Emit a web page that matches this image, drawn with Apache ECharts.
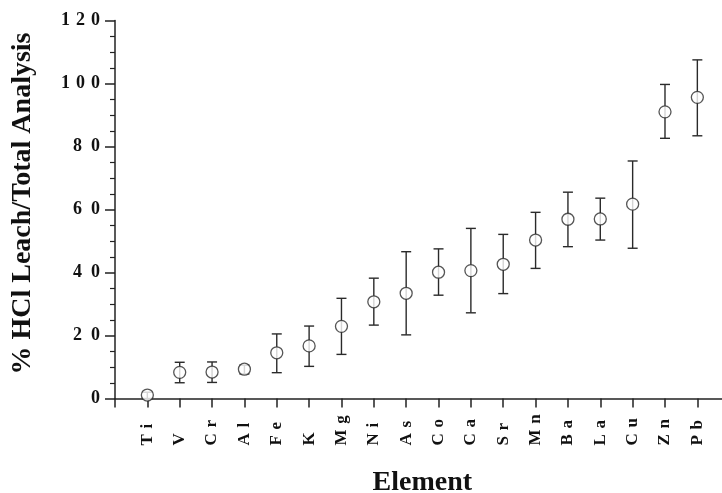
<!DOCTYPE html>
<html>
<head>
<meta charset="utf-8">
<script src="https://cdn.jsdelivr.net/npm/echarts@6/dist/echarts.min.js"></script>
<style>
html,body{margin:0;padding:0;background:#fff;}
#chart{width:722px;height:493px;}
</style>
</head>
<body>
<div id="chart"></div>
<script>
// Elements (x categories)
const categories = ['Ti','V','Cr','Al','Fe','K','Mg','Ni','As','Co','Ca','Sr','Mn','Ba','La','Cu','Zn','Pb'];
// Mean % HCl leach / total analysis
const means = [1.1, 8.3, 8.4, 9.3, 14.5, 16.7, 22.9, 30.7, 33.4, 40.1, 40.6, 42.6, 50.3, 56.9, 57.0, 61.7, 91.0, 95.6];
// Error bar lower and upper ends
const lower = [0.0, 5.0, 5.1, 7.8, 8.2, 10.2, 14.0, 23.3, 20.2, 32.8, 27.2, 33.3, 41.3, 48.2, 50.3, 47.7, 82.6, 83.4];
const upper = [2.0, 11.5, 11.6, 10.6, 20.5, 23.0, 31.8, 38.2, 46.6, 47.5, 54.0, 52.1, 59.1, 65.5, 63.6, 75.4, 99.7, 107.5];
// Y tick labels
const yTicks = [0, 20, 40, 60, 80, 100, 120];

const axisCats = [''].concat(categories).concat(['']);
const serif = '"Liberation Serif", "DejaVu Serif", serif';
const ink = '#222';

const chart = echarts.init(document.getElementById('chart'), null, {renderer: 'canvas'});

function spaced(s, sp) { return String(s).split('').join(sp); }

chart.setOption({
  backgroundColor: '#fff',
  animation: false,
  grid: { left: 115, top: 20.5, width: 614.7, height: 378, containLabel: false, outerBoundsMode: 'none' },
  xAxis: {
    type: 'category',
    data: axisCats,
    boundaryGap: false,
    name: 'Element',
    nameLocation: 'middle',
    nameGap: 70,
    nameTextStyle: { fontFamily: serif, fontWeight: 'bold', fontSize: 28, color: '#111' },
    axisLine: { show: true, lineStyle: { color: ink, width: 1.5 } },
    axisTick: { show: true, inside: false, length: 9, alignWithLabel: true, interval: 0, lineStyle: { color: ink, width: 1.5 } },
    axisLabel: {
      show: true, interval: 0, rotate: 90, margin: 47, align: 'left',
      fontFamily: serif, fontWeight: 'bold', fontSize: 17, color: '#111',
      formatter: function (v) { return spaced(v, '\u2004'); }
    },
    splitLine: { show: false }
  },
  yAxis: {
    type: 'value',
    min: 0, max: 120, interval: 20,
    name: '% HCl Leach/Total Analysis',
    nameLocation: 'middle',
    nameGap: 78,
    nameTextStyle: { fontFamily: serif, fontWeight: 'bold', fontSize: 28, color: '#111', padding: [0, 0, 0, 12] },
    axisLine: { show: true, lineStyle: { color: ink, width: 1.5 } },
    axisTick: { show: true, inside: false, length: 10, lineStyle: { color: ink, width: 1.5 } },
    minorTick: { show: true, splitNumber: 4, length: 5, lineStyle: { color: ink, width: 1.2 } },
    axisLabel: {
      show: true, margin: 15,
      fontFamily: serif, fontWeight: 'bold', fontSize: 18, color: '#111',
      formatter: function (v) {
        if (yTicks.indexOf(v) < 0) return '';
        return v >= 100 ? spaced(v, '\u2004') : spaced(v, '\u2002');
      }
    },
    splitLine: { show: false }
  },
  series: [
    {
      type: 'custom',
      name: 'error',
      data: categories.map(function (c, i) { return [i + 1, lower[i], upper[i]]; }),
      encode: { x: 0, y: [1, 2] },
      z: 2,
      renderItem: function (params, api) {
        const x = api.value(0);
        const lo = api.coord([x, api.value(1)]);
        const hi = api.coord([x, api.value(2)]);
        const hw = 5;
        const st = { stroke: '#2a2a2a', lineWidth: 1.4, fill: null };
        return {
          type: 'group',
          children: [
            { type: 'line', shape: { x1: lo[0], y1: lo[1], x2: hi[0], y2: hi[1] }, style: st },
            { type: 'line', shape: { x1: lo[0] - hw, y1: lo[1], x2: lo[0] + hw, y2: lo[1] }, style: st },
            { type: 'line', shape: { x1: hi[0] - hw, y1: hi[1], x2: hi[0] + hw, y2: hi[1] }, style: st }
          ]
        };
      }
    },
    {
      type: 'scatter',
      name: 'mean',
      data: means.map(function (v, i) { return [i + 1, v]; }),
      symbol: 'circle',
      symbolSize: 12,
      z: 3,
      itemStyle: { color: '#fff', borderColor: '#2a2a2a', borderWidth: 1.3 }
    }
  ]
});
</script>
</body>
</html>
